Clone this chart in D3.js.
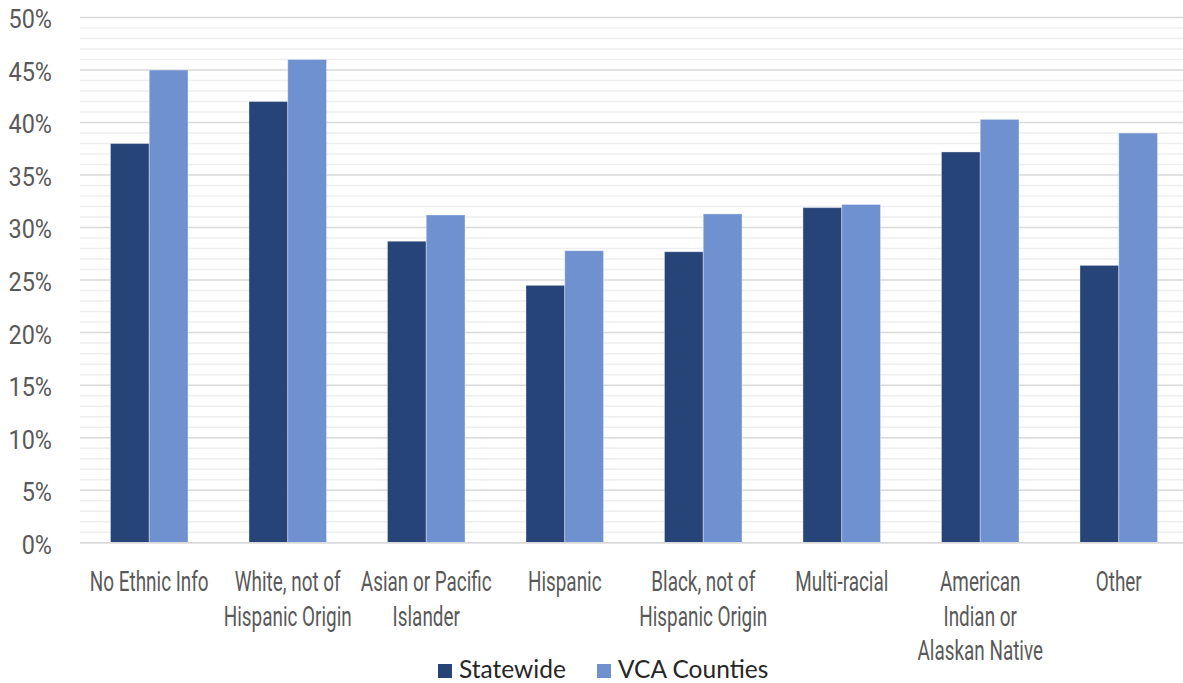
<!DOCTYPE html>
<html>
<head>
<meta charset="utf-8">
<script src="https://cdn.jsdelivr.net/npm/d3@7"></script>
<style>
  html, body { margin: 0; padding: 0; background: #ffffff; }
  svg { display: block; }
  .tick-label { font-family: Roboto, "DejaVu Sans Condensed", sans-serif; fill: #595959; }
  .cat-label { font-family: Roboto, "DejaVu Sans Condensed", sans-serif; fill: #595959; }
  .legend-label { font-family: Lato, "Open Sans", sans-serif; fill: #262626; }
</style>
</head>
<body>
<svg id="chart" width="1183" height="683"></svg>
<script>
// Turnout share by ethnicity, statewide vs. VCA counties
const categories = [
  "No Ethnic Info",
  "White, not of\nHispanic Origin",
  "Asian or Pacific\nIslander",
  "Hispanic",
  "Black, not of\nHispanic Origin",
  "Multi-racial",
  "American\nIndian or\nAlaskan Native",
  "Other"
];
const seriesNames = ["Statewide", "VCA Counties"];
const statewide   = [0.380, 0.420, 0.287, 0.245, 0.277, 0.319, 0.372, 0.264];
const vcaCounties = [0.450, 0.460, 0.312, 0.278, 0.313, 0.322, 0.403, 0.390];
const seriesColors = ["#264478", "#7091d0"];
const yTicks = [0, 0.05, 0.10, 0.15, 0.20, 0.25, 0.30, 0.35, 0.40, 0.45, 0.50];
const yMinorTicks = d3.range(0, 51).map(d => d / 100);

const rows = categories.map((c, i) => ({
  category: c,
  values: [statewide[i], vcaCounties[i]]
}));

const svg = d3.select("#chart");
const plot = { left: 80, right: 1188, top: 17.5, bottom: 542.7 };

// Condensed look: regular face squeezed horizontally
const tickSquash = 0.9;
const catSquash = 0.7;

const x0 = d3.scaleBand()
  .domain(categories)
  .range([plot.left, plot.right])
  .paddingInner(0.44)
  .paddingOuter(0.22);

const x1 = d3.scaleBand()
  .domain(seriesNames)
  .range([0, x0.bandwidth()])
  .padding(0);

const y = d3.scaleLinear()
  .domain([0, 0.5])
  .range([plot.bottom, plot.top]);

// Minor gridlines (every 1%)
svg.append("g")
  .selectAll("line")
  .data(yMinorTicks.filter(t => Math.round(t * 100) % 5 !== 0))
  .join("line")
  .attr("x1", plot.left)
  .attr("x2", plot.right)
  .attr("y1", d => y(d))
  .attr("y2", d => y(d))
  .attr("stroke", "#eeeeee")
  .attr("stroke-width", 1.5);

// Major gridlines (every 5%)
svg.append("g")
  .selectAll("line")
  .data(yTicks)
  .join("line")
  .attr("x1", plot.left)
  .attr("x2", plot.right)
  .attr("y1", d => y(d))
  .attr("y2", d => y(d))
  .attr("stroke", "#d9d9d9")
  .attr("stroke-width", 1.5);

// Bars
const groups = svg.append("g")
  .selectAll("g")
  .data(rows)
  .join("g")
  .attr("transform", d => `translate(${x0(d.category)},0)`);

groups.selectAll("rect")
  .data(d => d.values.map((v, i) => ({ series: seriesNames[i], value: v, idx: i })))
  .join("rect")
  .attr("x", d => x1(d.series))
  .attr("width", x1.bandwidth())
  .attr("y", d => y(d.value))
  .attr("height", d => y(0) - y(d.value))
  .attr("fill", d => seriesColors[d.idx])
  .attr("stroke", "rgba(255,255,255,0.35)")
  .attr("stroke-width", 1);

// Baseline
svg.append("line")
  .attr("x1", plot.left)
  .attr("x2", plot.right)
  .attr("y1", y(0))
  .attr("y2", y(0))
  .attr("stroke", "#d9d9d9")
  .attr("stroke-width", 1.5);

// Y axis labels
const yAxis = d3.axisLeft(y)
  .tickValues(yTicks)
  .tickFormat(d3.format(".0%"))
  .tickSize(0)
  .tickPadding(0);

const yG = svg.append("g")
  .attr("transform", "translate(52,0)")
  .call(yAxis);
yG.select(".domain").remove();
yG.selectAll("text")
  .attr("class", "tick-label")
  .attr("font-size", 26)
  .attr("font-family", null)
  .attr("x", 0)
  .attr("dy", "0.4em")
  .attr("fill", "#595959")
  .attr("transform", `scale(${tickSquash},1)`);

// Category labels
const catG = svg.append("g");
categories.forEach(c => {
  const lines = c.split("\n");
  const cx = x0(c) + x0.bandwidth() / 2;
  const t = catG.append("text")
    .attr("class", "cat-label")
    .attr("text-anchor", "middle")
    .attr("font-size", 27)
    .attr("transform", `translate(${cx},591) scale(${catSquash},1)`);
  lines.forEach((ln, i) => {
    t.append("tspan")
      .attr("x", 0)
      .attr("dy", i === 0 ? 0 : 34.7)
      .text(ln);
  });
});

// Legend
const legend = svg.append("g");
const legendItems = [
  { name: seriesNames[0], color: seriesColors[0], x: 438 },
  { name: seriesNames[1], color: seriesColors[1], x: 597 }
];
legendItems.forEach(it => {
  legend.append("rect")
    .attr("x", it.x)
    .attr("y", 664)
    .attr("width", 14)
    .attr("height", 14)
    .attr("fill", it.color);
  legend.append("text")
    .attr("class", "legend-label")
    .attr("x", it.x + 21)
    .attr("y", 677.5)
    .attr("font-size", 24.5)
    .text(it.name);
});
</script>
</body>
</html>
